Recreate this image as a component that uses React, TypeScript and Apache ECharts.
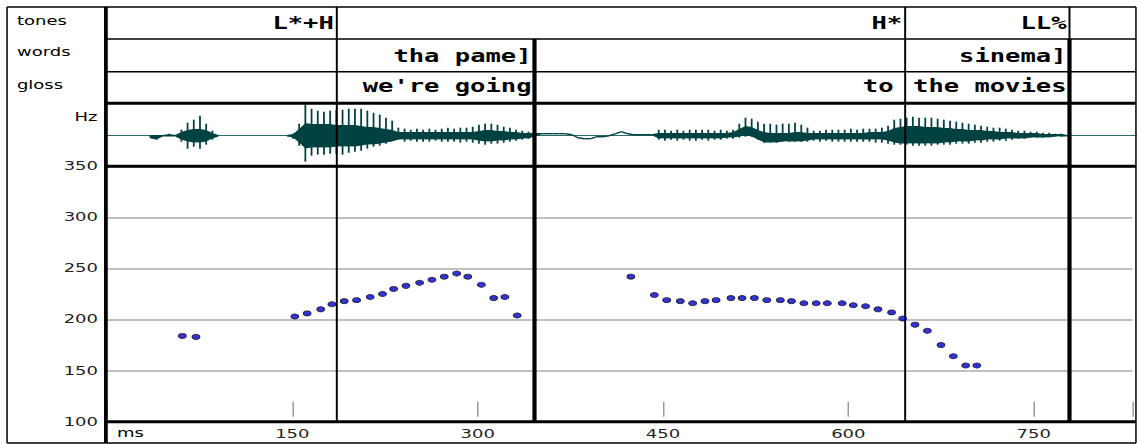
import { useEffect, useRef } from 'react';
import * as echarts from 'echarts';

// ---- data -------------------------------------------------------------
const X_MAX_MS = 830;
const X_TICK_MS = 150;
const Y_MIN_HZ = 100;
const Y_MAX_HZ = 350;
const Y_TICK_HZ = 50;

// pitch track (ms, Hz)
const f0Times = [
  61, 72,
  152, 162, 173, 182, 192, 202, 213, 223, 232, 242, 253, 263, 273, 283, 292, 303, 313, 322, 332,
  424, 443, 453, 464, 474, 484, 493, 505, 514, 524,
  534, 545, 554, 564, 574, 583, 595, 604, 614, 624, 635, 644, 654, 664, 675, 685, 695, 704,
];
const f0Hz = [
  184, 183,
  203, 206, 210, 215, 218, 219, 222, 225, 230, 233, 236, 239, 242, 245, 242, 234, 221, 222, 204,
  242, 224, 219, 218, 216, 218, 219, 221, 221, 221,
  219, 219, 218, 216, 216, 216, 216, 214, 213, 210, 207, 201, 195, 189, 175, 164, 155, 155,
];

// annotation tiers: label and right-edge time (ms)
const toneLabels = ['L*+H', 'H*', 'LL%'];
const toneTimes = [186, 646, 779];
const wordLabels = ['tha pame]', 'sinema]'];
const wordTimes = [346, 779];
const glossLabels = ["we're going", 'to', 'the movies'];
const glossTimes = [346, 639, 779];
const tierNames = ['tones', 'words', 'gloss'];

// waveform envelope: [ms, spike top, spike bottom, body top, body bottom]
const waveEnvelope: number[][] = [
  [35, 0, -2, 0, -2], [40, 0, -4, 0, -3], [45, 0, 0, 0, 0], [50, 2, 0, 1, 0], [55, 1, 0, 0, 0],
  [60, 6, -6, 3, -3], [65, 13, -13, 5, -5], [70, 16, -11, 6, -6], [75, 20, -13, 6, -6],
  [80, 12, -9, 5, -5], [85, 5, -4, 2, -2], [90, 0, 0, 0, 0],

  [145, 0, 0, 0, 0], [150, 2, -3, 1, -1], [155, 12, -10, 6, -6], [160, 31, -26, 12, -12],
  [165, 27, -20, 11, -11], [170, 25, -19, 11, -11], [175, 24, -19, 11, -11], [180, 25, -18, 11, -11],
  [185, 26, -18, 10, -10], [190, 26, -19, 10, -10], [195, 27, -17, 10, -10], [200, 27, -16, 10, -10],
  [205, 27, -15, 9, -9], [210, 25, -13, 8, -8], [215, 23, -11, 8, -8], [220, 21, -10, 7, -7],
  [225, 18, -8, 6, -6], [230, 15, -5, 5, -5], [235, 8, -4, 3, -3], [240, 7, -6, 3, -3],
  [245, 6, -5, 3, -3], [250, 7, -6, 3, -3], [255, 6, -6, 3, -3], [260, 7, -6, 3, -3],
  [265, 6, -5, 3, -3], [270, 7, -6, 3, -3], [275, 8, -6, 3, -3], [280, 7, -6, 3, -3],
  [285, 8, -7, 3, -3], [290, 8, -6, 3, -3], [295, 9, -7, 3, -3], [300, 11, -8, 4, -4],
  [305, 12, -9, 5, -5], [310, 12, -8, 5, -5], [315, 11, -8, 4, -4], [320, 9, -7, 4, -4],
  [325, 8, -6, 3, -3], [330, 6, -5, 3, -3], [335, 5, -4, 2, -2], [340, 4, -3, 2, -2],
  [345, 3, -1, 2, 0], [350, 2, 2, 2, 2], [355, 2, 2, 2, 2], [360, 2, 2, 2, 2],
  [365, 2, 2, 2, 2], [370, 2, 2, 2, 2], [375, 1, 1, 1, 1], [380, -2, -2, -2, -2],
  [385, -3, -3, -3, -3], [390, -3, -3, -3, -3], [395, -1, -1, -1, -1], [400, -1, -1, -1, -1],
  [405, 0, 0, 0, 0], [410, 2, 2, 2, 2], [415, 4, 4, 4, 4], [420, 2, 2, 2, 2],
  [425, 1, 1, 1, 1], [430, 1, 1, 1, 1], [435, 1, 1, 1, 1], [440, 1, 1, 1, 1],
  [445, 6, -4, 2, -2], [450, 6, -5, 2, -2], [455, 5, -4, 2, -2], [460, 6, -5, 2, -2],
  [465, 5, -4, 2, -2], [470, 6, -5, 2, -2], [475, 6, -5, 2, -2], [480, 6, -4, 2, -2],
  [485, 6, -5, 2, -2], [490, 5, -4, 2, -2], [495, 6, -4, 2, -2], [500, 5, -3, 2, -1],
  [505, 6, -3, 3, -1], [510, 12, -2, 6, 0], [515, 18, -1, 9, 1], [520, 17, -1, 8, 0],
  [525, 14, -4, 5, -3], [530, 12, -7, 3, -6], [535, 12, -7, 2, -6], [540, 11, -7, 2, -6],
  [545, 12, -6, 2, -5], [550, 12, -6, 2, -5], [555, 13, -6, 3, -5], [560, 11, -6, 3, -5],
  [565, 8, -6, 2, -4], [570, 5, -5, 2, -3], [575, 5, -6, 2, -3], [580, 6, -5, 2, -3],
  [585, 6, -6, 2, -3], [590, 6, -6, 2, -3], [595, 6, -6, 2, -3], [600, 7, -6, 2, -3],
  [605, 6, -6, 2, -3], [610, 7, -6, 2, -3], [615, 7, -6, 3, -3], [620, 7, -7, 3, -3],
  [625, 8, -7, 3, -3], [630, 10, -8, 4, -4], [635, 16, -9, 7, -6], [640, 17, -9, 8, -7],
  [645, 18, -9, 9, -7], [650, 19, -10, 9, -7], [655, 18, -10, 9, -7], [660, 18, -10, 8, -7],
  [665, 18, -10, 8, -7], [670, 17, -9, 8, -7], [675, 16, -9, 7, -6], [680, 15, -9, 7, -6],
  [685, 14, -8, 6, -5], [690, 13, -8, 6, -5], [695, 12, -8, 5, -5], [700, 11, -7, 5, -4],
  [705, 10, -7, 5, -4], [710, 9, -6, 4, -3], [715, 8, -6, 4, -3], [720, 8, -5, 3, -3],
  [725, 7, -5, 3, -2], [730, 6, -4, 3, -2], [735, 5, -3, 2, -2], [740, 5, -3, 2, -2],
  [745, 4, -2, 2, -1], [750, 4, -2, 2, -1], [755, 3, -2, 1, -1], [760, 3, -1, 1, -1],
  [765, 2, -1, 1, 0], [770, 2, -1, 1, 0], [775, 0, 0, 0, 0],
];

// ---- layout (drawing units; the canvas is stretched 1.5x horizontally) ----
const CANVAS_W = 758;
const CANVAS_H = 444;
const FRAME_L = 4.7;
const FRAME_R = 757.3;
const FRAME_T = 7;
const FRAME_B = 443;
const LABEL_COL_X = 70.6;
const ROW_TONES_B = 39;
const ROW_WORDS_B = 71.7;
const ROW_GLOSS_B = 103.3;
const ROW_WAVE_B = 166.3;
const PLOT_B = 421.7;
const PLOT_L = 71.33;
const PLOT_W = 686;

const WAVE_COLOR = '#004242';
const BASELINE_COLOR = '#2c6c6c';
const TIER_FONT = 'bold 17px "DejaVu Sans Mono"';
const SMALL_FONT = '12px "DejaVu Sans"';

function waveItem(params: any, api: any) {
  const i = params.dataIndex;
  const row = waveEnvelope[i];
  const next = waveEnvelope[i + 1];
  const children: any[] = [];
  if (next && next[0] - row[0] <= 5) {
    const a = api.coord([row[0], row[3]]);
    const b = api.coord([next[0], next[3]]);
    const c = api.coord([next[0], next[4]]);
    const d = api.coord([row[0], row[4]]);
    children.push({
      type: 'polygon',
      shape: { points: [[a[0], a[1] - 0.7], [b[0], b[1] - 0.7], [c[0], c[1] + 0.7], [d[0], d[1] + 0.7]] },
      style: { fill: WAVE_COLOR },
    });
  }
  if (row[1] - row[2] > 0.5) {
    const top = api.coord([row[0], row[1]]);
    const bot = api.coord([row[0], row[2]]);
    children.push({
      type: 'line',
      shape: { x1: top[0], y1: top[1], x2: bot[0], y2: bot[1] },
      style: { stroke: WAVE_COLOR, lineWidth: 1.2 },
    });
  }
  return { type: 'group', children };
}

function buildOption(): any {
  return {
    animation: false,
    backgroundColor: '#fff',
    grid: [
      { left: PLOT_L, top: ROW_WAVE_B, width: PLOT_W, height: PLOT_B - ROW_WAVE_B, containLabel: false },
      { left: PLOT_L, top: 104.7, width: PLOT_W, height: 62, containLabel: false },
    ],
    xAxis: [
      {
        type: 'value', gridIndex: 0, min: 0, max: X_MAX_MS, interval: X_TICK_MS,
        axisLine: { show: false }, axisTick: { show: false }, splitLine: { show: false },
        axisLabel: {
          margin: 12, verticalAlign: 'middle', fontFamily: 'DejaVu Sans', fontSize: 12, color: '#222',
          formatter: (v: number) => (v > 0 && v % X_TICK_MS === 0 ? String(v) : ''),
        },
      },
      {
        type: 'value', gridIndex: 0, min: 0, max: X_MAX_MS, interval: X_TICK_MS,
        position: 'bottom', offset: -5,
        axisLine: { show: false }, splitLine: { show: false }, axisLabel: { show: false },
        axisTick: { show: true, inside: true, length: 15, lineStyle: { color: '#9a9a9a', width: 1 } },
      },
      {
        type: 'value', gridIndex: 1, min: 0, max: X_MAX_MS,
        axisLine: { onZero: true, lineStyle: { color: BASELINE_COLOR, width: 1.2 } },
        axisTick: { show: false }, axisLabel: { show: false }, splitLine: { show: false },
      },
    ],
    yAxis: [
      {
        type: 'value', gridIndex: 0, min: Y_MIN_HZ, max: Y_MAX_HZ, interval: Y_TICK_HZ,
        axisLine: { show: false }, axisTick: { show: false },
        axisLabel: { margin: 6, fontFamily: 'DejaVu Sans', fontSize: 12, color: '#222' },
        splitLine: { show: true, lineStyle: { color: '#ababab', width: 1.5 } },
      },
      {
        type: 'value', gridIndex: 1, min: -31, max: 31,
        axisLine: { show: false }, axisTick: { show: false }, axisLabel: { show: false },
        splitLine: { show: false },
      },
    ],
    series: [
      {
        type: 'custom',
        xAxisIndex: 2,
        yAxisIndex: 1,
        z: 3,
        silent: true,
        renderItem: waveItem,
        encode: { x: 0, y: [1, 2, 3, 4] },
        data: waveEnvelope,
      },
      {
        type: 'scatter',
        xAxisIndex: 0,
        yAxisIndex: 0,
        z: 20,
        symbol: 'circle',
        symbolSize: 5.2,
        itemStyle: { color: '#0000cc', borderColor: '#000', borderWidth: 0.7 },
        data: f0Times.map((t, i) => [t, f0Hz[i]]),
      },
    ],
  };
}

function buildGraphic(px: (t: number) => number): any[] {
  const els: any[] = [];
  const line = (x1: number, y1: number, x2: number, y2: number, w: number) =>
    els.push({ type: 'line', z: 10, silent: true, shape: { x1, y1, x2, y2 }, style: { stroke: '#000', lineWidth: w } });
  const text = (s: string, x: number, y: number, font: string, align: string) =>
    els.push({
      type: 'text', z: 30, silent: true, x, y,
      style: { text: s, font, fill: '#000', textAlign: align, textVerticalAlign: 'middle' },
    });

  // outer frame and label column
  line(FRAME_L, FRAME_T, FRAME_R, FRAME_T, 1.5);
  line(FRAME_L, FRAME_B, FRAME_R, FRAME_B, 1.5);
  line(FRAME_L, FRAME_T, FRAME_L, FRAME_B, 1);
  line(FRAME_R, FRAME_T, FRAME_R, FRAME_B, 1);
  line(LABEL_COL_X, FRAME_T, LABEL_COL_X, FRAME_B, 2.5);

  // tier rows, waveform band, pitch panel
  line(LABEL_COL_X, ROW_TONES_B, FRAME_R, ROW_TONES_B, 1.5);
  line(LABEL_COL_X, ROW_WORDS_B, FRAME_R, ROW_WORDS_B, 1.5);
  line(LABEL_COL_X, ROW_GLOSS_B, FRAME_R, ROW_GLOSS_B, 3);
  line(LABEL_COL_X, ROW_WAVE_B, FRAME_R, ROW_WAVE_B, 3);
  line(LABEL_COL_X, PLOT_B, FRAME_R, PLOT_B, 3);

  // boundaries: tone marks are thin and run through every row, word ends are heavy
  toneTimes.forEach((t) => line(px(t), FRAME_T, px(t), PLOT_B, 1.3));
  wordTimes.forEach((t) => line(px(t), ROW_TONES_B, px(t), PLOT_B, 2.8));

  // tier labels, right-aligned against their end time
  toneLabels.forEach((s, i) => text(s, px(toneTimes[i]) - 2, 23.5, TIER_FONT, 'right'));
  wordLabels.forEach((s, i) => text(s, px(wordTimes[i]) - 2, 56, TIER_FONT, 'right'));
  glossLabels.forEach((s, i) => text(s, px(glossTimes[i]) - 2, 86.5, TIER_FONT, 'right'));

  // row names
  const rowY = [20.8, 52.5, 85];
  tierNames.forEach((s, i) => text(s, 11.3, rowY[i], SMALL_FONT, 'left'));
  text('Hz', 65, 117.5, SMALL_FONT, 'right');
  text('ms', 78, 433, SMALL_FONT, 'left');
  return els;
}

export default function App() {
  const ref = useRef<HTMLDivElement>(null);
  useEffect(() => {
    const chart = echarts.init(ref.current!, null, { renderer: 'svg' });
    chart.setOption(buildOption());
    const px = (t: number) => chart.convertToPixel({ xAxisIndex: 0 }, t) as number;
    chart.setOption({ graphic: buildGraphic(px) });
    return () => chart.dispose();
  }, []);
  return (
    <div
      ref={ref}
      style={{
        position: 'absolute',
        left: 0,
        top: 0,
        width: CANVAS_W,
        height: CANVAS_H,
        transform: 'scaleX(1.5)',
        transformOrigin: '0 0',
      }}
    />
  );
}
